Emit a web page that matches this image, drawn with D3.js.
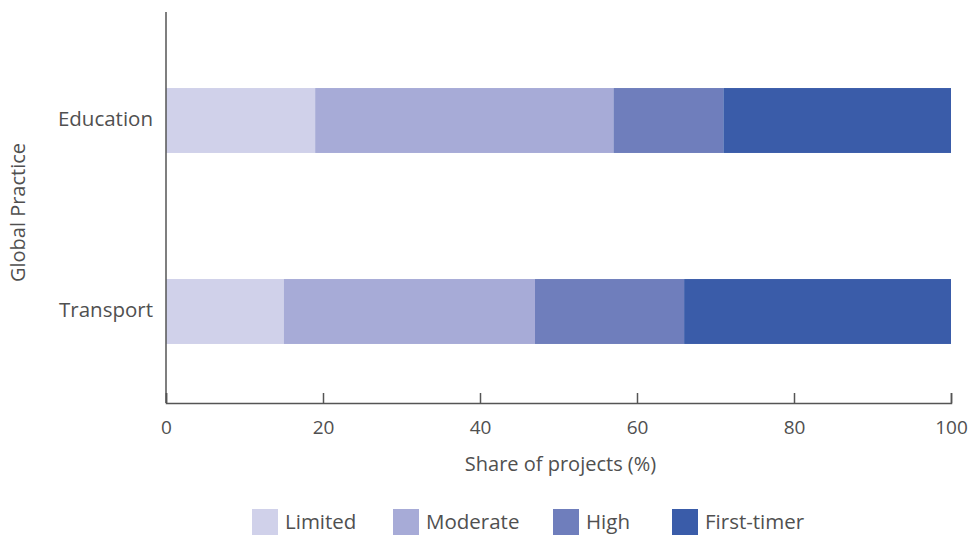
<!DOCTYPE html>
<html>
<head>
<meta charset="utf-8">
<script src="https://cdn.jsdelivr.net/npm/d3@7"></script>
<style>
  body { margin: 0; background: #fff; }
  svg text { font-family: "Open Sans", "Lato", sans-serif; fill: #505050; }
</style>
</head>
<body>
<div id="chart"></div>
<script>
const practices = ["Education", "Transport"];
const levels    = ["Limited", "Moderate", "High", "First-timer"];
const colors    = ["#d0d1ea", "#a7abd7", "#6f7ebc", "#3a5ca9"];
// share of projects (%) per level, same order as levels
const education = [19, 38, 14, 29];
const transport = [15, 32, 19, 34];
const xTicks    = [0, 20, 40, 60, 80, 100];

const W = 972, H = 536;
const LEFT = 166, RIGHT = 951, TOP = 12, AXIS_Y = 403;

const svg = d3.select("#chart").append("svg")
  .attr("width", W).attr("height", H);

const x = d3.scaleLinear().domain([0, 100]).range([LEFT, RIGHT]);
const y = d3.scaleBand().domain(practices).range([25, 407])
  .paddingInner(0.66).paddingOuter(0.33);
const color = d3.scaleOrdinal().domain(levels).range(colors);

const rows = [education, transport].map((vals, i) => {
  const r = { practice: practices[i] };
  levels.forEach((l, j) => r[l] = vals[j]);
  return r;
});
const stacked = d3.stack().keys(levels)(rows);

// ── Bars ──
svg.append("g").selectAll("g")
  .data(stacked)
  .join("g")
  .attr("fill", d => color(d.key))
  .selectAll("rect")
  .data(d => d)
  .join("rect")
  .attr("x", d => x(d[0]))
  .attr("y", d => y(d.data.practice))
  .attr("width", d => x(d[1]) - x(d[0]))
  .attr("height", y.bandwidth());

// ── X axis ──
const xAxis = svg.append("g")
  .attr("transform", `translate(0,${AXIS_Y})`)
  .call(d3.axisBottom(x).tickValues(xTicks).tickSize(-10).tickPadding(20));
xAxis.select(".domain").attr("stroke", "#555").attr("stroke-width", 1.5);
xAxis.selectAll(".tick line").attr("stroke", "#555").attr("stroke-width", 1.5);
xAxis.selectAll(".tick text")
  .style("font-size", "19px").attr("fill", "#505050").attr("dy", "0.6em");

// ── Y axis ──
svg.append("line")
  .attr("x1", LEFT).attr("x2", LEFT)
  .attr("y1", TOP).attr("y2", AXIS_Y)
  .attr("stroke", "#555").attr("stroke-width", 1.5);

svg.append("g").selectAll("text")
  .data(practices)
  .join("text")
  .attr("x", LEFT - 13)
  .attr("y", d => y(d) + y.bandwidth() / 2)
  .attr("dy", "0.28em")
  .style("text-anchor", "end")
  .style("font-size", "20.5px")
  .text(d => d);

// ── Axis titles ──
svg.append("text")
  .attr("x", (LEFT + RIGHT) / 2 + 2)
  .attr("y", 464)
  .attr("dy", "0.35em")
  .style("text-anchor", "middle")
  .style("font-size", "20px")
  .text("Share of projects (%)");

svg.append("text")
  .attr("transform", `translate(18,${(TOP + AXIS_Y) / 2 + 5}) rotate(-90)`)
  .attr("dy", "0.35em")
  .style("text-anchor", "middle")
  .style("font-size", "20px")
  .text("Global Practice");

// ── Legend ──
const legendX = [252, 393, 553, 672];
const legend = svg.append("g").selectAll("g")
  .data(levels)
  .join("g")
  .attr("transform", (d, i) => `translate(${legendX[i]},509)`);
legend.append("rect")
  .attr("width", 26).attr("height", 26)
  .attr("fill", d => color(d));
legend.append("text")
  .attr("x", 33).attr("y", 13).attr("dy", "0.35em")
  .style("font-size", "20.5px")
  .text(d => d);
</script>
</body>
</html>
